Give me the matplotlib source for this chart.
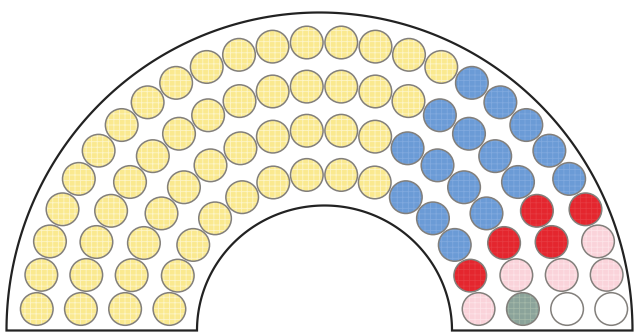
import numpy as np
import matplotlib.pyplot as plt
from matplotlib.patches import Circle, Polygon

# seats per row (inner -> outer), listed left to right by party
parties = ['yellow', 'blue', 'red', 'pink', 'green', 'white']
row1 = [9, 3, 1, 1, 0, 0]
row2 = [11, 4, 1, 1, 1, 0]
row3 = [14, 4, 2, 1, 0, 1]
row4 = [17, 5, 1, 2, 0, 1]
rows = [row1, row2, row3, row4]

fill = {'yellow': '#fae98f', 'blue': '#6b9bd6', 'red': '#e4262e',
        'pink': '#fad3da', 'green': '#8ba39a', 'white': '#ffffff'}
grid = {'yellow': '#fdf5c8', 'blue': '#80a9de', 'red': '#e73a41',
        'pink': '#fde3e8', 'green': '#a2b7a8', 'white': '#ffffff'}

plt.rcParams['hatch.linewidth'] = 0.6

fig = plt.figure(figsize=(6.35, 3.32), dpi=100)
ax = fig.add_axes([0, 0, 1, 1])
ax.set_xlim(0, 635)
ax.set_ylim(332, 0)
ax.axis('off')

# hemicycle outline
base = 330.5
t = np.linspace(np.pi, 0, 200)
outer = np.column_stack([319.5 + 313 * np.cos(t), base - 318 * np.sin(t)])
inner = np.column_stack([324.5 + 127.5 * np.cos(t[::-1]), base - 125 * np.sin(t[::-1])])
ax.add_patch(Polygon(np.vstack([outer, inner]), closed=True, fc='white',
                     ec='#222222', lw=1.6, zorder=1))

cx, cy = 324, 330
radii = [156, 200, 244, 288]
seat_r = 16.3
for counts, r in zip(rows, radii):
    colors = [p for p, n in zip(parties, counts) for _ in range(n)]
    a0 = np.arcsin(21 / r)
    ang = np.linspace(np.pi - a0, a0, len(colors))
    for a, c in zip(ang, colors):
        x, y = cx + r * np.cos(a), cy - r * np.sin(a)
        ax.add_patch(Circle((x, y), seat_r, fc=fill[c], ec=grid[c],
                            hatch='+++', lw=0, zorder=2))
        ax.add_patch(Circle((x, y), seat_r, fc='none', ec='#827f7b',
                            lw=1.1, zorder=3))

fig.savefig('out.png', dpi=100)
